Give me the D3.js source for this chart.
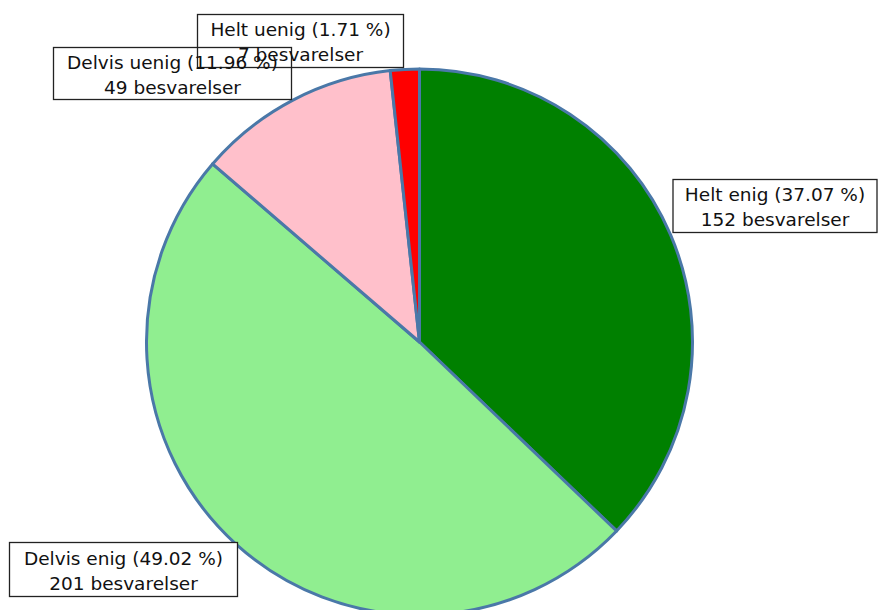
<!DOCTYPE html>
<html><head><meta charset="utf-8">
<script src="https://cdn.jsdelivr.net/npm/d3@7"></script>
<style>body{margin:0;background:#fff}</style>
</head><body>
<svg id="c" width="880" height="610"></svg>
<script>
const categories = ["Helt enig", "Delvis enig", "Delvis uenig", "Helt uenig"];
const counts = [152, 201, 49, 7];
const percentLabels = ["37.07 %", "49.02 %", "11.96 %", "1.71 %"];
const colors = ["#008000", "#90ee90", "#ffc0cb", "#ff0000"];

// layout (label box centres, pixels)
const labelBoxes = [
  {cx: 775, cy: 206, w: 205, h: 54},
  {cx: 123.5, cy: 569.5, w: 229, h: 55},
  {cx: 172.5, cy: 73.5, w: 239, h: 53},
  {cx: 300.5, cy: 41, w: 207, h: 54}
];

const W = 880, H = 610;
const cx = 419.5, cy = 342, R = 273;
const svg = d3.select("#c");
svg.append("rect").attr("width", W).attr("height", H).attr("fill", "#fff");

const data = categories.map((c, i) => ({cat: c, n: counts[i], pct: percentLabels[i], color: colors[i]}));
const pie = d3.pie().value(d => d.n).sort(null);
const arc = d3.arc().innerRadius(0).outerRadius(R);
const g = svg.append("g").attr("transform", `translate(${cx},${cy})`);
g.selectAll("path").data(pie(data)).join("path")
  .attr("d", arc)
  .attr("fill", d => d.data.color)
  .attr("stroke", "#4a78a8")
  .attr("stroke-width", 3)
  .attr("stroke-linejoin", "round");

const lg = svg.append("g");
data.forEach((d, i) => {
  const b = labelBoxes[i];
  lg.append("rect").attr("x", b.cx - b.w/2).attr("y", b.cy - b.h/2).attr("width", b.w).attr("height", b.h).attr("fill", "#fff");
});
data.forEach((d, i) => {
  const b = labelBoxes[i];
  lg.append("rect").attr("x", b.cx - b.w/2 + 0.5).attr("y", b.cy - b.h/2 + 0.5).attr("width", b.w - 1).attr("height", b.h - 1)
    .attr("fill", "none").attr("stroke", "#222").attr("stroke-width", 1.3);
});
data.forEach((d, i) => {
  const b = labelBoxes[i];
  const t = lg.append("text").attr("text-anchor", "middle")
    .attr("font-family", "DejaVu Sans, Verdana, sans-serif").attr("font-size", 18.5).attr("fill", "#111");
  t.append("tspan").attr("x", b.cx).attr("y", b.cy - 5).text(`${d.cat} (${d.pct})`);
  t.append("tspan").attr("x", b.cx).attr("y", b.cy + 20).text(`${d.n} besvarelser`);
});
</script>
</body></html>
